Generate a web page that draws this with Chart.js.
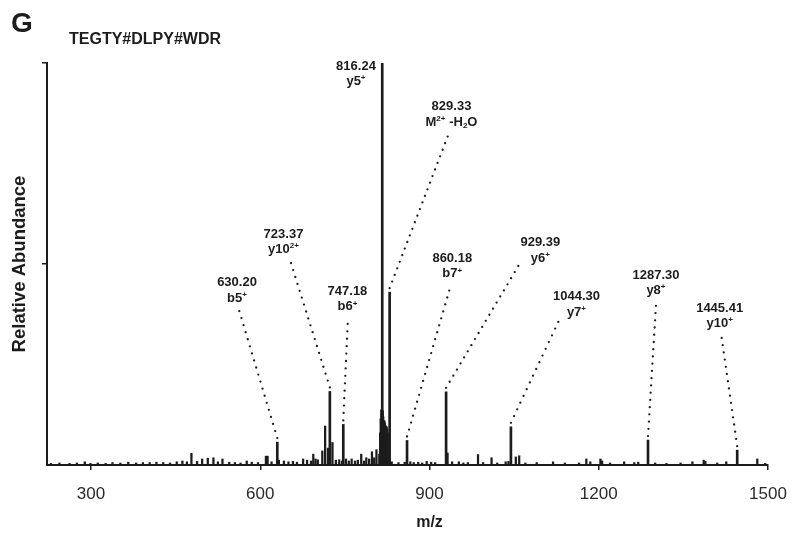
<!DOCTYPE html>
<html>
<head>
<meta charset="utf-8">
<script src="https://cdn.jsdelivr.net/npm/chart.js@4.4.0/dist/chart.umd.min.js"></script>
<style>
  html, body { margin: 0; padding: 0; background: #fff; }
  #wrap { width: 795px; height: 545px; }
</style>
</head>
<body>
<div id="wrap"><canvas id="spectrum" width="795" height="545"></canvas></div>
<script>
// MS/MS spectrum, TEGTY#DLPY#WDR

const panelLetter = "G";
const peptide = "TEGTY#DLPY#WDR";

// annotated fragment ions
const peakMz    = [630.20, 723.37, 747.18, 816.24, 829.33, 860.18, 929.39, 1044.30, 1287.30, 1445.41];
const peakAbund = [5.7, 18.3, 10.1, 100, 43, 6.1, 18.2, 9.5, 6.2, 3.7];
const peakIon   = ["b5^+", "y10^2+", "b6^+", "y5^+", "M^2+ -H_2O", "b7^+", "y6^+", "y7^+", "y8^+", "y10^+"];

// label anchors (m/z, abundance of first text line) and start of the dotted leader
const labelMz     = [558.8, 641.2, 754.6, 769.7, 939.0, 940.4, 1096.4, 1160.5, 1301.4, 1414.3];
const labelAbund  = [44.5, 56.5, 42.3, 98.3, 88.3, 50.5, 54.4, 41.0, 46.3, 38.1];
const leaderMz    = [562.9, 654.5, 755.0, null, 932.2, 935.0, 1057.4, 1128.3, 1301.4, 1417.9];
const leaderAbund = [38.3, 50.2, 35.1, null, 81.7, 43.4, 49.5, 35.6, 39.6, 31.6];

// rest of the centroided signal
const traceMz = [
  229, 244, 262, 275, 289, 299, 312, 326, 338, 352, 366, 380, 392, 404, 416, 428, 440, 452,
  462, 470, 478, 488, 497, 507, 517, 525, 533, 545, 555, 565, 576, 585, 596, 610, 611.5, 613,
  620, 633, 642, 650, 658, 665, 676, 683, 690, 694, 698, 702, 710, 715, 720, 728, 734, 740,
  745, 752, 757, 762, 768, 773, 779, 784, 788, 793, 798, 802, 806, 811, 812.5, 813.5, 814.5,
  815.3, 817.2, 818, 819, 820, 821, 822, 823, 824, 825, 826, 833, 845, 856, 866, 872, 880,
  887, 895, 903, 910, 932, 940, 952, 960, 968, 986, 995, 1010, 1020, 1035, 1040, 1053, 1059,
  1070, 1090, 1119, 1140, 1165, 1178, 1185, 1203, 1206, 1220, 1245, 1263, 1270, 1300, 1320,
  1345, 1366, 1386, 1389, 1410, 1426, 1481, 1495
];
const traceAbund = [
  0.4, 0.5, 0.4, 0.5, 0.8, 0.4, 0.5, 0.4, 0.6, 0.5, 0.7, 0.5, 0.6, 0.6, 0.7, 0.6, 0.5, 0.8,
  1.0, 0.8, 2.9, 0.9, 1.5, 1.7, 1.8, 0.8, 1.5, 0.7, 0.6, 0.5, 1.0, 0.7, 0.6, 2.2, 2.0, 2.2,
  0.8, 1.2, 1.0, 0.8, 0.9, 0.7, 1.5, 1.2, 1.0, 2.7, 1.5, 1.3, 3.5, 9.7, 4.2, 5.6, 1.2, 1.3,
  1.0, 1.5, 1.0, 1.5, 1.0, 1.2, 2.7, 1.0, 1.8, 1.5, 3.3, 1.8, 3.8, 2.7, 8.0, 11.5, 13.7,
  12.5, 13.5, 12.0, 11.0, 11.0, 10.5, 9.8, 9.5, 9.5, 9.0, 8.0, 0.8, 0.6, 0.7, 0.8, 0.6, 0.7,
  0.5, 0.9, 0.7, 0.6, 3.0, 0.8, 0.8, 0.5, 0.6, 2.6, 0.6, 1.8, 0.5, 0.8, 0.9, 2.0, 2.3,
  0.5, 0.6, 0.8, 0.5, 0.5, 1.5, 0.8, 1.5, 1.0, 0.5, 0.8, 0.6, 0.7, 0.5, 0.4,
  0.5, 0.8, 1.2, 0.9, 0.5, 0.8, 1.5, 0.4
];

const mzTicks = [300, 600, 900, 1200, 1500];
const abundTicks = [50, 100];

const ink = "#1c1c1c";
const sans = "'Liberation Sans', Arial, sans-serif";

// draws "y10^2+" / "M^2+ -H_2O" style ion names, centred on x
function drawIon(ctx, text, x, y, size) {
  const parts = [];
  let i = 0;
  while (i < text.length) {
    const c = text[i];
    if (c === "^") {
      let j = i + 1, s = "";
      while (j < text.length && text[j] !== " ") s += text[j++];
      parts.push({ t: s, kind: "sup" });
      i = j;
    } else if (c === "_") {
      parts.push({ t: text[i + 1], kind: "sub" });
      i += 2;
    } else {
      let j = i, s = "";
      while (j < text.length && text[j] !== "^" && text[j] !== "_") s += text[j++];
      parts.push({ t: s, kind: "base" });
      i = j;
    }
  }
  const small = size * 0.62;
  const fontFor = k => "bold " + (k === "base" ? size : small) + "px " + sans;
  let w = 0;
  parts.forEach(p => { ctx.font = fontFor(p.kind); p.w = ctx.measureText(p.t).width; w += p.w; });
  let cx = x - w / 2;
  parts.forEach(p => {
    ctx.font = fontFor(p.kind);
    const dy = p.kind === "sup" ? -size * 0.38 : p.kind === "sub" ? size * 0.2 : 0;
    ctx.fillText(p.t, cx, y + dy);
    cx += p.w;
  });
}

const annotations = {
  id: "annotations",
  afterDatasetsDraw(chart) {
    const { ctx, scales: { x, y } } = chart;
    ctx.save();
    ctx.fillStyle = ink;
    ctx.textBaseline = "alphabetic";
    const size = 13;
    peakMz.forEach((mz, i) => {
      const lx = x.getPixelForValue(labelMz[i]);
      const ly = y.getPixelForValue(labelAbund[i]);
      ctx.font = "bold " + size + "px " + sans;
      ctx.textAlign = "center";
      ctx.fillText(mz.toFixed(2), lx, ly);
      ctx.textAlign = "left";
      drawIon(ctx, peakIon[i], lx, ly + 15.5, size);

      if (leaderMz[i] === null) return;
      // dotted leader down to the top of the peak
      const x0 = x.getPixelForValue(leaderMz[i]);
      const y0 = y.getPixelForValue(leaderAbund[i]);
      const x1 = x.getPixelForValue(mz);
      const y1 = y.getPixelForValue(peakAbund[i]) - 4;
      const len = Math.hypot(x1 - x0, y1 - y0);
      const n = Math.floor(len / 7);
      for (let k = 0; k <= n; k++) {
        const t = n ? k / n : 0;
        ctx.beginPath();
        ctx.arc(x0 + (x1 - x0) * t, y0 + (y1 - y0) * t, 1.15, 0, Math.PI * 2);
        ctx.fill();
      }
    });

    // axis title sits under the middle tick rather than the middle of the axis
    ctx.textAlign = "center";
    ctx.textBaseline = "middle";
    ctx.font = "bold 16px " + sans;
    ctx.fillText("m/z", x.getPixelForValue(mzTicks[2]), 523);

    // panel letter and peptide
    ctx.textAlign = "left";
    ctx.textBaseline = "alphabetic";
    ctx.font = "bold 28px " + sans;
    ctx.fillText(panelLetter, 11, 32);
    ctx.font = "bold 16px " + sans;
    ctx.fillText(peptide, 69, 44);
    ctx.restore();
  }
};

const toPoints = (xs, ys) => xs.map((m, i) => ({ x: m, y: ys[i] }));

new Chart(document.getElementById("spectrum"), {
  type: "bar",
  data: {
    datasets: [
      {
        data: toPoints(traceMz, traceAbund),
        backgroundColor: ink,
        barThickness: 1.6,
        grouped: false
      },
      {
        data: toPoints(peakMz, peakAbund),
        backgroundColor: ink,
        barThickness: 2,
        grouped: false
      }
    ]
  },
  options: {
    responsive: false,
    animation: false,
    layout: { padding: { top: 63, right: 27, left: 0, bottom: 0 } },
    plugins: { legend: { display: false }, tooltip: { enabled: false } },
    scales: {
      x: {
        type: "linear",
        min: 222,
        max: 1500,
        offset: false,
        afterBuildTicks: s => { s.ticks = mzTicks.map(v => ({ value: v })); },
        afterFit: s => { s.height = 80; s.paddingLeft = 0; s.paddingRight = 0; },
        grid: { offset: false, drawOnChartArea: false, drawTicks: true, tickLength: 5, color: ink, lineWidth: 1.5 },
        border: { display: true, color: ink, width: 2 },
        ticks: { color: "#2a2a2a", padding: 14, font: { family: sans, size: 17 }, maxRotation: 0, callback: v => String(v) },
        title: { display: false }
      },
      y: {
        min: 0,
        max: 100,
        afterBuildTicks: s => { s.ticks = abundTicks.map(v => ({ value: v })); },
        afterFit: s => { s.width = 47; },
        grid: { drawOnChartArea: false, drawTicks: true, tickLength: 5, color: ink, lineWidth: 1.5 },
        border: { display: true, color: ink, width: 2 },
        ticks: { display: false },
        title: { display: true, text: "Relative Abundance", color: ink, font: { family: sans, size: 18.5, weight: "bold" }, padding: { top: 9, bottom: 0 } }
      }
    }
  },
  plugins: [annotations]
});
</script>
</body>
</html>
